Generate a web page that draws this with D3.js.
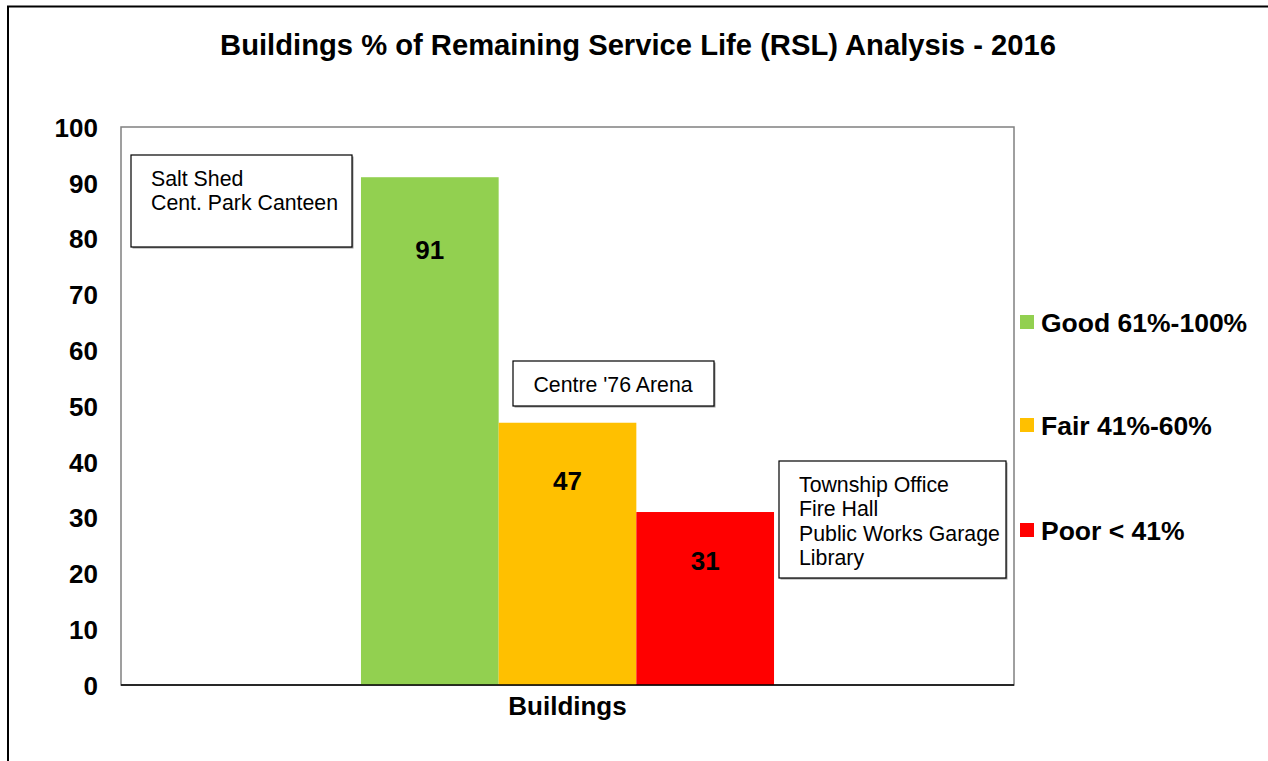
<!DOCTYPE html>
<html>
<head>
<meta charset="utf-8">
<script src="https://cdn.jsdelivr.net/npm/d3@7"></script>
<style>
  html, body { margin: 0; padding: 0; background: #fff; }
  svg { display: block; font-family: "Liberation Sans", Arial, sans-serif; }
</style>
</head>
<body>
<svg id="chart" width="1268" height="761"></svg>
<script>
const title = "Buildings % of Remaining Service Life (RSL) Analysis - 2016";
const categories = ["Buildings"];
const seriesNames = ["Good 61%-100%", "Fair 41%-60%", "Poor < 41%"];
const seriesValues = [91, 47, 31];
const seriesColors = ["#92D050", "#FFC000", "#FF0000"];
const yTicks = [0, 10, 20, 30, 40, 50, 60, 70, 80, 90, 100];
const noteGood = ["Salt Shed", "Cent. Park Canteen"];
const noteFair = ["Centre '76 Arena"];
const notePoor = ["Township Office", "Fire Hall", "Public Works Garage", "Library"];

// layout constants (pixels)
const plot = { left: 121, top: 127, right: 1014, bottom: 685 };
const valueLabelOffset = [72, 58, 49];   // label centre below bar top
const legendCenterY = [322, 425, 530];

const svg = d3.select("#chart");

// outer chart border
svg.append("rect").attr("x", 8).attr("y", 6.5).attr("width", 1300).attr("height", 800)
  .attr("fill", "#fff").attr("stroke", "#000").attr("stroke-width", 2);

// title
svg.append("text").attr("x", 638).attr("y", 55).attr("text-anchor", "middle")
  .attr("font-size", 29.2).attr("font-weight", "bold").text(title);

const y = d3.scaleLinear().domain([0, 100]).range([plot.bottom, plot.top]);
const x0 = d3.scaleBand().domain(categories).range([plot.left, plot.right])
  .paddingInner(0).paddingOuter(0.581);
const x1 = d3.scaleBand().domain(seriesNames).range([0, x0.bandwidth()]).padding(0);

// plot area frame (gray)
svg.append("rect").attr("x", plot.left).attr("y", plot.top)
  .attr("width", plot.right - plot.left).attr("height", plot.bottom - plot.top)
  .attr("fill", "none").attr("stroke", "#808080").attr("stroke-width", 1.5);

// y axis labels
const yAxis = d3.axisLeft(y).tickValues(yTicks).tickSize(0).tickPadding(23);
const gy = svg.append("g").attr("transform", `translate(${plot.left},0)`).call(yAxis);
gy.select(".domain").remove();
gy.selectAll("text").attr("font-size", 26).attr("font-weight", "bold")
  .attr("font-family", "Liberation Sans, Arial, sans-serif").attr("fill", "#000").attr("dy", "0.36em");

// bars
const data = seriesNames.map((n, i) => ({ name: n, value: seriesValues[i], color: seriesColors[i], cat: categories[0], off: valueLabelOffset[i] }));
const g = svg.append("g");
g.selectAll("rect.bar").data(data).enter().append("rect").attr("class", "bar")
  .attr("x", d => x0(d.cat) + x1(d.name))
  .attr("y", d => y(d.value))
  .attr("width", x1.bandwidth())
  .attr("height", d => y(0) - y(d.value))
  .attr("fill", d => d.color);

// value labels
g.selectAll("text.val").data(data).enter().append("text").attr("class", "val")
  .attr("x", d => x0(d.cat) + x1(d.name) + x1.bandwidth() / 2)
  .attr("y", d => y(d.value) + d.off)
  .attr("dy", "0.36em")
  .attr("text-anchor", "middle").attr("font-size", 26).attr("font-weight", "bold")
  .text(d => d.value);

// x axis line (black)
svg.append("line").attr("x1", plot.left).attr("x2", plot.right)
  .attr("y1", plot.bottom).attr("y2", plot.bottom).attr("stroke", "#000").attr("stroke-width", 1.5);

// x category label
svg.append("text").attr("x", x0(categories[0]) + x0.bandwidth() / 2).attr("y", 706)
  .attr("dy", "0.36em")
  .attr("text-anchor", "middle").attr("font-size", 26).attr("font-weight", "bold").text(categories[0]);

// note boxes
function noteBox(x, yTop, w, h, lines, tx, tyCenter, anchor) {
  svg.append("rect").attr("x", x + 1.5).attr("y", yTop + 1.5).attr("width", w).attr("height", h)
    .attr("fill", "#999");
  svg.append("rect").attr("x", x).attr("y", yTop).attr("width", w).attr("height", h)
    .attr("fill", "#fff").attr("stroke", "#000").attr("stroke-width", 1.2);
  const t = svg.append("text").attr("font-size", 21.3).attr("fill", "#000").attr("text-anchor", anchor || "start");
  lines.forEach((l, i) => {
    t.append("tspan").attr("x", tx).attr("y", tyCenter + i * 24.5).attr("dy", "0.36em").text(l);
  });
}
noteBox(131, 155, 221, 92, noteGood, 151, 178);
noteBox(513, 361, 201, 45, noteFair, 613, 384, "middle");
noteBox(779, 461, 227, 117, notePoor, 799, 484);

// legend
const lg = svg.append("g");
data.forEach((d, i) => {
  lg.append("rect").attr("x", 1020).attr("y", legendCenterY[i] - 7).attr("width", 14).attr("height", 14).attr("fill", d.color);
  lg.append("text").attr("x", 1041).attr("y", legendCenterY[i]).attr("dy", "0.36em")
    .attr("font-size", 26.5).attr("font-weight", "bold").text(d.name);
});
</script>
</body>
</html>
